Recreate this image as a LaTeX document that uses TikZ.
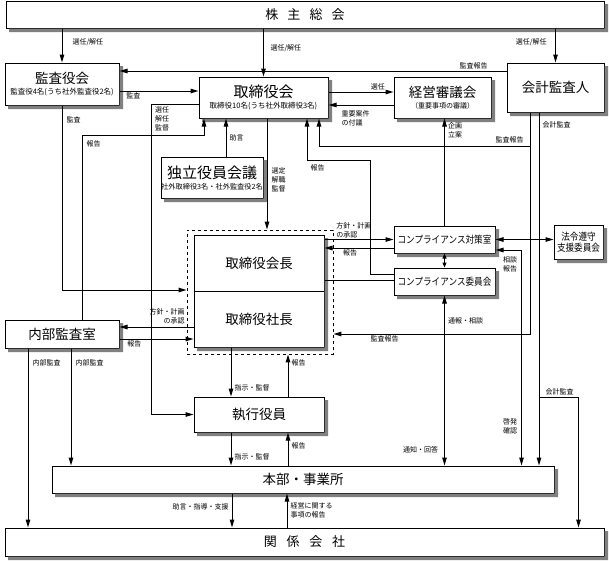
\documentclass[tikz,border=0pt]{standalone}
\usepackage{fontspec}
\usepackage{graphicx}
\setmainfont{Noto Sans CJK JP}
\usetikzlibrary{arrows.meta}

\newcommand{\orgbig}{\fontsize{13.5}{15}\selectfont}
\newcommand{\orghuge}{\fontsize{15}{17}\selectfont}
\newcommand{\orgsub}{\fontsize{7.5}{9}\selectfont}
\newcommand{\orgnarrow}[1]{\scalebox{0.86}[1]{#1}}

\tikzset{
	box/.style={draw, fill=white, line width=1pt, inner sep=0pt, align=center},
	boxshadow/.style={fill=black!50},
	frm/.style={draw, dashed, line width=0.9pt, inner sep=0pt},
	lab/.style={font=\fontsize{7}{9}\selectfont, text=black, inner sep=1pt, align=left},
	arr/.style={line width=1pt, -{Triangle[length=8pt,width=4.5pt]}},
	darr/.style={line width=1pt, {Triangle[length=8pt,width=4.5pt]}-{Triangle[length=8pt,width=4.5pt]}},
	sdarr/.style={line width=1pt, {Triangle[length=5pt,width=4pt]}-{Triangle[length=5pt,width=4pt]}},
	plain/.style={line width=1pt},
}

\begin{document}
\begin{tikzpicture}[x=1pt,y=-1pt]
	%frame
	\useasboundingbox (0,0) rectangle (609,560);
	% boxes
	\node[box, minimum width=598pt, minimum height=27pt, font=\fontsize{13}{15}\selectfont] (sh) at (305,14.5)
		{株\hspace{0.7em}主\hspace{0.7em}総\hspace{0.7em}会};
	\node[box, minimum width=114pt, minimum height=42pt] (kansa) at (62,84)
		{\orgbig 監査役会\\[-1pt]{\orgsub 監査役4名(うち社外監査役2名)}};
	\node[box, minimum width=129pt, minimum height=41pt] (tori) at (263.5,97.5)
		{\orghuge 取締役会\\[-1pt]{\orgsub 取締役10名(うち社外取締役3名)}};
	\node[box, minimum width=97pt, minimum height=41pt] (keiei) at (442.5,97.5)
		{\orgbig 経営審議会\\[-1pt]{\fontsize{7}{9}\selectfont （重要事項の審議）}};
	\node[box, minimum width=97pt, minimum height=49pt, font=\orgbig] (kaikei) at (555.5,87.5) {会計監査人};
	\node[box, minimum width=102pt, minimum height=41pt] (dokuritsu) at (212,177.5)
		{\orghuge 独立役員会議\\[-1pt]{\fontsize{7.2}{9}\selectfont 社外取締役3名・社外監査役2名}};
	% chairman + president
	\node[frm, minimum width=146pt, minimum height=124pt] (frame) at (260,292) {};
	\node[box, minimum width=130pt, minimum height=56pt, font=\orgbig] (chair) at (259,263) {取締役会長};
	\node[box, minimum width=130pt, minimum height=56pt, font=\orgbig] (pres) at (259,319) {取締役社長};
	% compliance
	\node[box, minimum width=101pt, minimum height=27pt, font=\fontsize{10}{11}\selectfont] (taisaku) at (444.5,239.5) {\orgnarrow{コンプライアンス対策室}};
	\node[box, minimum width=101pt, minimum height=27pt, font=\fontsize{10}{11}\selectfont] (iinkai) at (444.5,281.5) {\orgnarrow{コンプライアンス委員会}};
	\node[box, minimum width=49pt, minimum height=34pt, font=\fontsize{10}{11.5}\selectfont] (houre) at (578.5,242) {\orgnarrow{法令遵守}\\\orgnarrow{支援委員会}};
	\node[box, minimum width=114pt, minimum height=28pt, font=\orgbig] (naibu) at (62,334) {内部監査室};
	\node[box, minimum width=130pt, minimum height=35pt, font=\orgbig] (shikko) at (259,414.5) {執行役員};
	\node[box, minimum width=502pt, minimum height=27pt, font=\orgbig] (honbu) at (303,479.5) {本部・事業所};
	\node[box, minimum width=599pt, minimum height=28pt, font=\fontsize{13}{15}\selectfont] (kankei) at (304.5,542)
		{関\hspace{0.75em}係\hspace{0.75em}会\hspace{0.75em}社};
	% shadows (outside the boxes only)
	\foreach \n in {sh,kansa,tori,keiei,kaikei,dokuritsu,taisaku,iinkai,houre,naibu,shikko,honbu,kankei}
		\fill[boxshadow] ([xshift=3.5pt]\n.south west) -- (\n.south east) -- ([yshift=-3.5pt]\n.north east)
			-- ([xshift=3.5pt,yshift=-3.5pt]\n.north east) -- ([xshift=3.5pt,yshift=-3.5pt]\n.south east)
			-- ([xshift=3.5pt,yshift=-3.5pt]\n.south west) -- cycle;
	\fill[boxshadow] ([xshift=3.5pt]pres.south west) -- (pres.south east) -- ([yshift=-3.5pt]chair.north east)
		-- ([xshift=3.5pt,yshift=-3.5pt]chair.north east) -- ([xshift=3.5pt,yshift=-3.5pt]pres.south east)
		-- ([xshift=3.5pt,yshift=-3.5pt]pres.south west) -- cycle;

	% shareholders
	\draw[arr] (sh.south -| kansa.north) -- node[lab, right=9pt, pos=0.4]{選任/解任} (kansa.north);
	\draw[arr] (sh.south -| tori.north) -- node[lab, right=5.5pt, pos=0.4]{選任/解任} (tori.north);
	\draw[arr] (sh.south -| kaikei.north) -- node[lab, left=7.5pt, pos=0.4]{選任/解任} (kaikei.north);
	% board row
	\draw[arr] ([yshift=16.5pt]kaikei.west) -- node[lab, above, pos=0.085]{監査報告} ([yshift=16.5pt]kaikei.west -| kansa.east);
	\draw[arr] ([yshift=-7pt]kansa.east) -- node[lab, below, pos=0.175]{監査} ([yshift=-7pt]kansa.east -| tori.west);
	\draw[arr] ([yshift=5.5pt]tori.east) -- node[lab, above, pos=0.76]{選任} ([yshift=5.5pt]tori.east -| keiei.west);
	\draw[arr] ([yshift=-7.5pt]keiei.west) -- node[lab, anchor=north west, pos=0.82, yshift=-4pt]{重要案件\\の付議} ([yshift=-7.5pt]keiei.west -| tori.east);
	\draw[arr] ([yshift=-6.5pt]tori.west) -- ++(-47,0) node[lab, anchor=north west, xshift=2pt, yshift=-1pt]{選任\\解任\\監督} |- (shikko.west);
	\draw[arr] ([xshift=14pt]dokuritsu.north) -- node[lab, right=2pt]{助言} ([xshift=14pt]dokuritsu.north |- tori.south);
	\draw[arr] ([xshift=3.5pt]tori.south) -- node[lab, right=3pt, pos=0.55]{選定\\解職\\監督} ([xshift=3.5pt]tori.south |- frame.north);
	% auditor
	\draw[arr] ([xshift=-25.5pt]kaikei.south) -- ++(0,34) coordinate (ka) node[lab, anchor=south east, xshift=-5pt, yshift=2pt]{監査報告} -| ([xshift=55.5pt]tori.south);
	\draw[arr] (ka) |- node[lab, below, pos=0.87]{監査報告} ([yshift=-42pt]frame.east);
	\draw[arr] ([xshift=-16.5pt]kaikei.south) -- node[lab, right=2pt, pos=0.042]{会計監査} ++(0,285) coordinate (kb) -- (kb |- honbu.north);
	\draw[arr] (kb) node[lab, anchor=south west, xshift=5pt, yshift=1pt]{会計監査} -| (kankei.north -| houre);
	% compliance
	\draw[darr] (taisaku.east) -- (taisaku.east -| houre.west);
	\draw[darr] ([yshift=-10.5pt]taisaku.east) -- ++(26,0) coordinate (kc) node[lab, anchor=north east, xshift=-3pt, yshift=-5pt]{相談\\報告}
		-- node[lab, left=3pt, pos=0.82]{啓発\\確認} (kc |- honbu.north);
	\draw[sdarr] (taisaku.south) -- (taisaku.south |- iinkai.north);
	\draw[arr] (taisaku.north) -- node[lab, right=2pt, pos=0.89]{企画\\立案} (taisaku.north |- keiei.south);
	\draw[darr] (iinkai.south) -- node[lab, right=2pt, pos=0.15]{通報・相談} node[lab, left=5pt, pos=0.91]{通知・回答} (iinkai.south |- honbu.north);
	\draw[arr] (taisaku.west -| chair.east) -- node[lab, anchor=south west, pos=0.15]{方針・計画\\の承認} (taisaku.west);
	\draw[arr] ([yshift=-8.5pt]taisaku.west) -- node[lab, below, pos=0.63]{報告} ([yshift=-8.5pt]taisaku.west -| chair.east);
	\draw[arr] ([yshift=7.5pt]iinkai.west) -- ++(-23,0) -- ++(0,-114) -| node[lab, anchor=north west, pos=0.5, xshift=2pt, yshift=-3pt]{報告} ([xshift=43.5pt]tori.south);
	\draw[plain] ([yshift=1.5pt]iinkai.west) -- ([yshift=1.5pt]iinkai.west -| chair.east);
	% audit board + internal audit
	\draw[arr] (kansa.south) |- node[lab, right=3pt, pos=0.04]{監査} ([yshift=2pt]frame.west);
	\draw[arr] ([xshift=20pt]naibu.north) -- ++(0,-184) node[lab, anchor=north west, xshift=3pt, yshift=-4pt]{報告} -| ([xshift=-59.5pt]tori.south);
	\draw[arr] ([yshift=-8pt]pres.west) -- node[lab, anchor=south east, align=right, pos=0.1, yshift=1pt]{方針・計画\\の承認} ([yshift=-8pt]pres.west -| naibu.east);
	\draw[arr] ([yshift=-5pt]naibu.east) -- node[lab, below, pos=0.2]{報告} ([yshift=-5pt]naibu.east -| pres.west);
	\draw[arr] ([xshift=-34pt]naibu.south) -- node[lab, right=3pt, pos=0.08]{内部監査} ([xshift=-34pt]naibu.south |- kankei.north);
	\draw[arr] ([xshift=9pt]naibu.south) -- node[lab, right=3pt, pos=0.12]{内部監査} ([xshift=9pt]naibu.south |- honbu.north);
	% execution
	\draw[arr] ([xshift=-28pt]pres.south) -- node[lab, right=2pt, pos=0.82]{指示・監督} ([xshift=-28pt]pres.south |- shikko.north);
	\draw[arr] ([xshift=29pt]shikko.north) -- node[lab, right=2pt, pos=0.81]{報告} ([xshift=29pt]shikko.north |- frame.south);
	\draw[arr] ([xshift=-28pt]shikko.south) -- node[lab, right=2pt, pos=0.74]{指示・監督} ([xshift=-28pt]shikko.south |- honbu.north);
	\draw[arr] ([xshift=29pt]shikko.south |- honbu.north) -- node[lab, right=2pt, pos=0.59]{報告} ([xshift=29pt]shikko.south);
	\draw[arr] ([xshift=-71pt]honbu.south) -- node[lab, left=2pt, pos=0.4]{助言・指導・支援} ([xshift=-71pt]honbu.south |- kankei.north);
	\draw[arr] ([xshift=-16pt]honbu.south |- kankei.north) -- node[lab, right=2pt, pos=0.5]{経営に関する\\事項の報告} ([xshift=-16pt]honbu.south);
\end{tikzpicture}
\end{document}
